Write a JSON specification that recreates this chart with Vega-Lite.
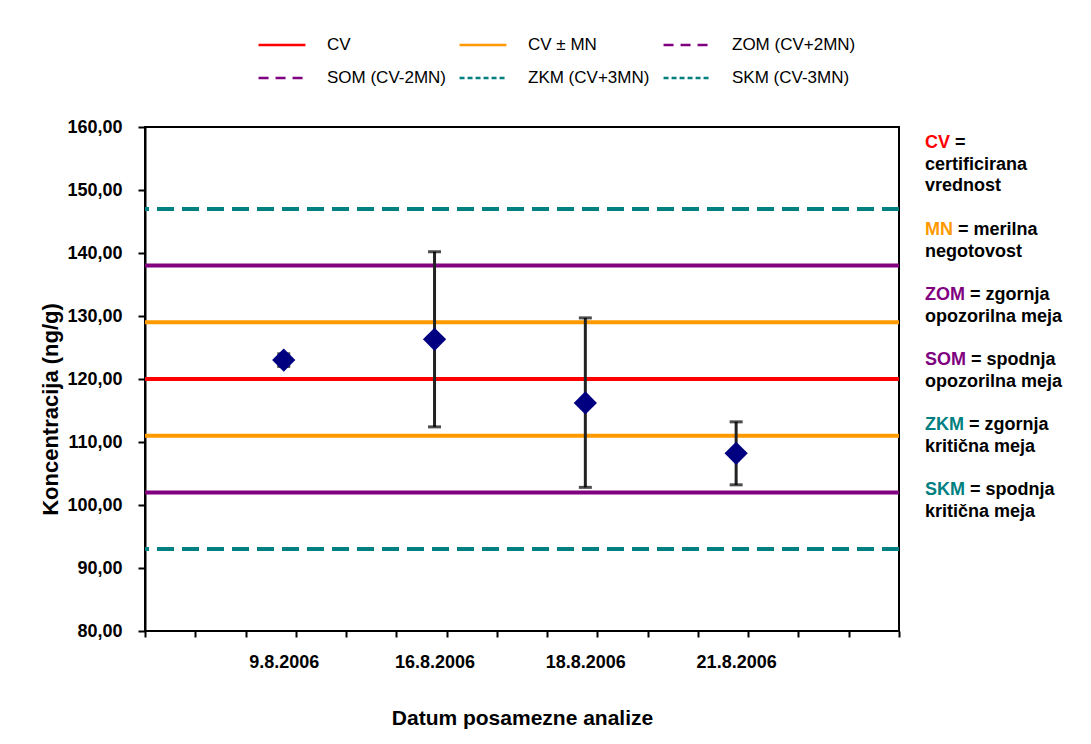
{
  "$schema": "https://vega.github.io/schema/vega-lite/v6.json",
  "padding": {"left": 38, "top": 19, "right": 5, "bottom": 5},
  "background": "white",
  "config": {
    "font": "Liberation Sans",
    "locale": {"number": {"decimal": ",", "thousands": ".", "grouping": [3], "currency": ["", " €"]}},
    "view": {"stroke": null},
    "concat": {"spacing": 24},
    "axis": {"grid": false, "labelColor": "black", "titleColor": "black"}
  },
  "datasets": {
    "limits": [
      {"series": "CV", "value": 120},
      {"series": "CV ± MN", "value": 129},
      {"series": "CV ± MN", "value": 111},
      {"series": "ZOM (CV+2MN)", "value": 138},
      {"series": "SOM (CV-2MN)", "value": 102},
      {"series": "ZKM (CV+3MN)", "value": 147},
      {"series": "SKM (CV-3MN)", "value": 93}
    ],
    "measurements": [
      {"datum": "9.8.2006", "value": 123.0, "low": 122.0, "high": 124.0},
      {"datum": "16.8.2006", "value": 126.3, "low": 112.4, "high": 140.2},
      {"datum": "18.8.2006", "value": 116.2, "low": 102.8, "high": 129.7},
      {"datum": "21.8.2006", "value": 108.2, "low": 103.2, "high": 113.2}
    ],
    "notes": [
      {"line": 0, "key": "CV", "text": "="},
      {"line": 1, "key": null, "text": "certificirana"},
      {"line": 2, "key": null, "text": "vrednost"},
      {"line": 4, "key": "MN", "text": "= merilna"},
      {"line": 5, "key": null, "text": "negotovost"},
      {"line": 7, "key": "ZOM", "text": "= zgornja"},
      {"line": 8, "key": null, "text": "opozorilna meja"},
      {"line": 10, "key": "SOM", "text": "= spodnja"},
      {"line": 11, "key": null, "text": "opozorilna meja"},
      {"line": 13, "key": "ZKM", "text": "= zgornja"},
      {"line": 14, "key": null, "text": "kritična meja"},
      {"line": 16, "key": "SKM", "text": "= spodnja"},
      {"line": 17, "key": null, "text": "kritična meja"}
    ]
  },
  "resolve": {"scale": {"color": "independent", "y": "independent", "x": "independent"}},
  "hconcat": [
    {
      "width": 754,
      "height": 504,
      "view": {"stroke": "black", "strokeWidth": 2},
      "layer": [
        {
          "data": {"name": "limits"},
          "mark": {"type": "rule", "strokeWidth": 4, "strokeCap": "butt", "clip": true},
          "encoding": {
            "y": {
              "field": "value", "type": "quantitative",
              "scale": {"domain": [80, 160], "nice": false, "zero": false},
              "axis": {
                "values": [80, 90, 100, 110, 120, 130, 140, 150, 160],
                "format": ".2f",
                "title": "Koncentracija (ng/g)",
                "titleFontSize": 22, "titleFontWeight": "bold", "titlePadding": 4,
                "titleY": 282,
                "labelFontSize": 18, "labelFontWeight": "bold", "labelPadding": 16,
                "tickSize": 7, "tickWidth": 2, "tickColor": "black",
                "domainColor": "black", "domainWidth": 2
              }
            },
            "color": {
              "field": "series", "type": "nominal",
              "scale": {
                "domain": ["CV", "CV ± MN", "ZOM (CV+2MN)", "SOM (CV-2MN)", "ZKM (CV+3MN)", "SKM (CV-3MN)"],
                "range": ["#FF0000", "#FF9900", "#800080", "#800080", "#008080", "#008080"]
              },
              "legend": {
                "title": null,
                "orient": "none",
                "legendX": 112,
                "legendY": -107,
                "columns": 3,
                "direction": "horizontal",
                "symbolType": "stroke",
                "symbolSize": 2200,
                "symbolStrokeWidth": 2.5,
                "labelFontSize": 17,
                "labelColor": "black",
                "labelOffset": 20,
                "columnPadding": 8,
                "rowPadding": 0,
                "encode": {
                  "symbols": {
                    "update": {
                      "strokeDash": {"signal": "indexof(['ZOM (CV+2MN)','SOM (CV-2MN)'], datum.value) >= 0 ? [10,7] : (indexof(['ZKM (CV+3MN)','SKM (CV-3MN)'], datum.value) >= 0 ? [5,3] : [])"}
                    }
                  }
                }
              }
            },
            "strokeDash": {
              "field": "series", "type": "nominal",
              "scale": {
                "domain": ["CV", "CV ± MN", "ZOM (CV+2MN)", "SOM (CV-2MN)", "ZKM (CV+3MN)", "SKM (CV-3MN)"],
                "range": [[1, 0], [1, 0], [1, 0], [1, 0], [17, 8], [17, 8]]
              },
              "legend": null
            }
          }
        },
        {
          "data": {"values": [{}]},
          "mark": {"type": "rule", "opacity": 0},
          "encoding": {
            "x": {
              "datum": 0, "type": "quantitative",
              "scale": {"domain": [0, 15], "nice": false, "zero": false},
              "axis": {
                "orient": "bottom",
                "values": [0, 1, 2, 3, 4, 5, 6, 7, 8, 9, 10, 11, 12, 13, 14, 15],
                "labels": false, "title": null, "domain": false,
                "tickSize": 6, "tickWidth": 2, "tickColor": "black"
              }
            }
          }
        },
        {
          "data": {"name": "measurements"},
          "layer": [
            {
              "mark": {"type": "rule", "strokeWidth": 3, "color": "#222222"},
              "encoding": {
                "y": {"field": "low", "type": "quantitative"},
                "y2": {"field": "high"}
              }
            },
            {
              "mark": {"type": "tick", "color": "black", "size": 13, "thickness": 3},
              "encoding": {"y": {"field": "low", "type": "quantitative"}}
            },
            {
              "mark": {"type": "tick", "color": "black", "size": 13, "thickness": 3},
              "encoding": {"y": {"field": "high", "type": "quantitative"}}
            },
            {
              "mark": {"type": "point", "shape": "diamond", "filled": true, "color": "#000080", "opacity": 1, "size": 540},
              "encoding": {"y": {"field": "value", "type": "quantitative"}}
            }
          ],
          "encoding": {
            "x": {
              "field": "datum", "type": "nominal", "sort": null,
              "scale": {"type": "point", "padding": 1.0133, "align": 0.46},
              "axis": {
                "orient": "bottom",
                "labelAngle": 0,
                "ticks": false, "domain": false,
                "labelFontSize": 18, "labelFontWeight": "bold", "labelPadding": 22,
                "title": "Datum posamezne analize",
                "titleFontSize": 21, "titleFontWeight": "bold", "titlePadding": 36
              }
            }
          }
        }
      ],
      "resolve": {"scale": {"x": "independent"}, "axis": {"x": "independent"}}
    },
    {
      "width": 160,
      "height": 504,
      "view": {"stroke": null},
      "data": {"name": "notes"},
      "encoding": {
        "x": {"datum": 0, "type": "quantitative", "scale": {"domain": [0, 1]}, "axis": null},
        "y": {
          "field": "line", "type": "quantitative",
          "scale": {"domain": [-0.74, 22.49], "nice": false, "zero": false, "reverse": true},
          "axis": null
        }
      },
      "layer": [
        {
          "transform": [{"filter": "datum.key == null"}],
          "mark": {"type": "text", "align": "left", "baseline": "middle", "fontSize": 18, "fontWeight": "bold", "color": "black"},
          "encoding": {"text": {"field": "text"}}
        },
        {
          "transform": [{"filter": "datum.key != null"}],
          "mark": {"type": "text", "align": "left", "baseline": "middle", "fontSize": 18, "fontWeight": "bold"},
          "encoding": {
            "text": {"field": "key"},
            "fill": {
              "field": "key", "type": "nominal",
              "scale": {
                "domain": ["CV", "MN", "ZOM", "SOM", "ZKM", "SKM"],
                "range": ["#FF0000", "#FF9900", "#800080", "#800080", "#008080", "#008080"]
              },
              "legend": null
            }
          }
        },
        {
          "transform": [{"filter": "datum.key == 'CV'"}],
          "mark": {"type": "text", "align": "left", "baseline": "middle", "fontSize": 18, "fontWeight": "bold", "color": "black", "dx": 30},
          "encoding": {"text": {"field": "text"}}
        },
        {
          "transform": [{"filter": "datum.key == 'MN'"}],
          "mark": {"type": "text", "align": "left", "baseline": "middle", "fontSize": 18, "fontWeight": "bold", "color": "black", "dx": 33},
          "encoding": {"text": {"field": "text"}}
        },
        {
          "transform": [{"filter": "datum.key == 'ZOM' || datum.key == 'SKM'"}],
          "mark": {"type": "text", "align": "left", "baseline": "middle", "fontSize": 18, "fontWeight": "bold", "color": "black", "dx": 45},
          "encoding": {"text": {"field": "text"}}
        },
        {
          "transform": [{"filter": "datum.key == 'SOM'"}],
          "mark": {"type": "text", "align": "left", "baseline": "middle", "fontSize": 18, "fontWeight": "bold", "color": "black", "dx": 46},
          "encoding": {"text": {"field": "text"}}
        },
        {
          "transform": [{"filter": "datum.key == 'ZKM'"}],
          "mark": {"type": "text", "align": "left", "baseline": "middle", "fontSize": 18, "fontWeight": "bold", "color": "black", "dx": 44},
          "encoding": {"text": {"field": "text"}}
        }
      ]
    }
  ]
}
